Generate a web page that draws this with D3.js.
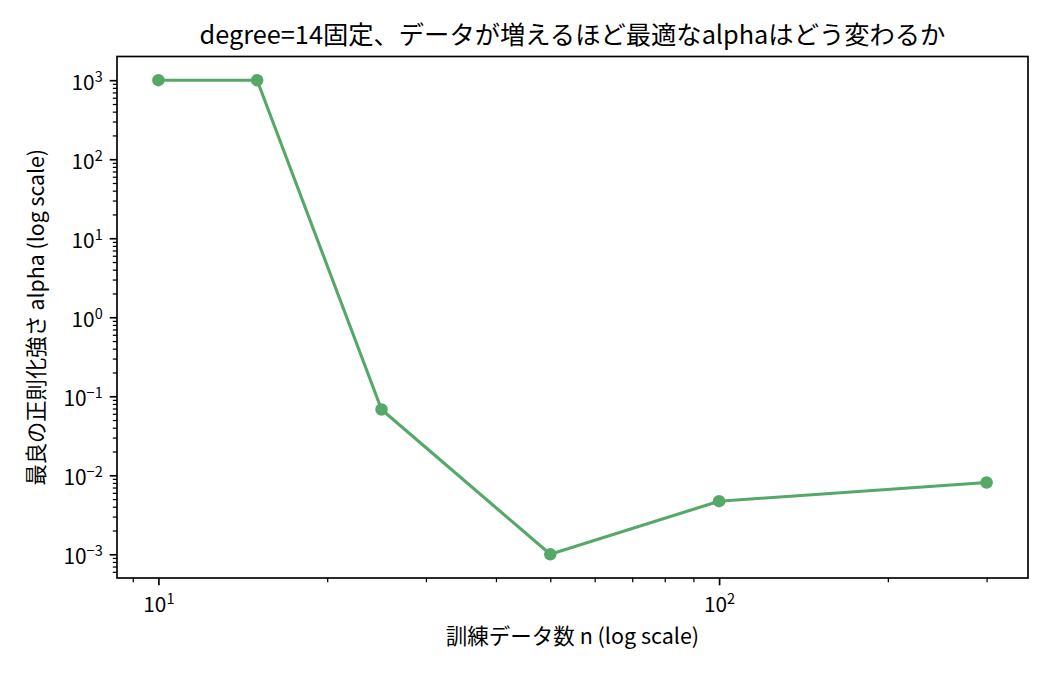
<!DOCTYPE html>
<html>
<head>
<meta charset="utf-8">
<script src="https://cdn.jsdelivr.net/npm/d3@7"></script>
<style>
  body { margin: 0; background: #fff; }
  text { font-family: "Noto Sans CJK JP", "Noto Sans", sans-serif; fill: #000; }
</style>
</head>
<body>
<div id="chart"></div>
<script>
const WIDTH = 1050;
const HEIGHT = 675;

// datos
const nTrain = [10, 15, 25, 50, 100, 300];
const bestAlpha = [1000, 1000, 0.068, 0.001, 0.0047, 0.0081];
const xMajorTicks = [10, 100];
const yMajorTicks = [1e-3, 1e-2, 1e-1, 1e0, 1e1, 1e2, 1e3];

const TITLE = "degree=14固定、データが増えるほど最適なalphaはどう変わるか";
const X_LABEL = "訓練データ数 n (log scale)";
const Y_LABEL = "最良の正則化強さ alpha (log scale)";

const margin = { top: 56.5, right: 22, bottom: 97, left: 117 };
const width = WIDTH - margin.left - margin.right;
const height = HEIGHT - margin.top - margin.bottom;
const COLOR = "#55a868";

const svg = d3.select("#chart").append("svg")
    .attr("width", WIDTH)
    .attr("height", HEIGHT);

const g = svg.append("g")
    .attr("transform", `translate(${margin.left},${margin.top})`);

// escalas con 5% de margen en log
function padLog(lo, hi) {
    const a = Math.log10(lo), b = Math.log10(hi);
    const p = (b - a) * 0.05;
    return [Math.pow(10, a - p), Math.pow(10, b + p)];
}

const x = d3.scaleLog()
    .domain(padLog(d3.min(nTrain), d3.max(nTrain)))
    .range([0, width]);

const y = d3.scaleLog()
    .domain(padLog(d3.min(bestAlpha), d3.max(bestAlpha)))
    .range([height, 0]);

function minorTicks(scale) {
    const [lo, hi] = scale.domain();
    const out = [];
    for (let e = Math.floor(Math.log10(lo)); e <= Math.ceil(Math.log10(hi)); e++) {
        for (let m = 2; m <= 9; m++) {
            const v = m * Math.pow(10, e);
            if (v >= lo && v <= hi) out.push(v);
        }
    }
    return out;
}

function supLabel(sel) {
    sel.each(function(d) {
        const t = d3.select(this);
        const e = Math.round(Math.log10(d));
        t.text(null);
        t.append("tspan").text("10");
        t.append("tspan")
            .attr("dy", -8.5)
            .style("font-size", "14.5px")
            .text(e < 0 ? "\u2212" + (-e) : String(e));
    });
}

// Eje X
const xAxis = g.append("g")
    .attr("transform", `translate(0,${height})`);
xAxis.call(d3.axisBottom(x).tickValues(minorTicks(x)).tickSize(4.2).tickFormat(""))
    .call(a => a.selectAll("line").attr("stroke-width", 1.25).attr("stroke", "#000"));
const xMaj = g.append("g")
    .attr("transform", `translate(0,${height})`)
    .call(d3.axisBottom(x).tickValues(xMajorTicks).tickSize(7.3).tickPadding(6));
xMaj.selectAll("line").attr("stroke-width", 1.67).attr("stroke", "#000");
xMaj.selectAll("text")
    .style("font-size", "20.8px")
    .attr("dy", null)
    .attr("y", 34)
    .call(supLabel);
xAxis.select(".domain").remove();
xMaj.select(".domain").remove();

// Eje Y
const yAxis = g.append("g");
yAxis.call(d3.axisLeft(y).tickValues(minorTicks(y)).tickSize(4.2).tickFormat(""))
    .call(a => a.selectAll("line").attr("stroke-width", 1.25).attr("stroke", "#000"));
const yMaj = g.append("g")
    .call(d3.axisLeft(y).tickValues(yMajorTicks).tickSize(7.3).tickPadding(7));
yMaj.selectAll("line").attr("stroke-width", 1.67).attr("stroke", "#000");
yMaj.selectAll("text")
    .style("font-size", "20.8px")
    .attr("dy", null)
    .attr("y", 9.5)
    .call(supLabel);
yAxis.select(".domain").remove();
yMaj.select(".domain").remove();

// Línea y puntos
const line = d3.line()
    .x((d, i) => x(nTrain[i]))
    .y(d => y(d));

g.append("path")
    .datum(bestAlpha)
    .attr("fill", "none")
    .attr("stroke", COLOR)
    .attr("stroke-width", 3.1)
    .attr("stroke-linejoin", "round")
    .attr("d", line);

g.selectAll(".pt")
    .data(bestAlpha)
    .enter().append("circle")
    .attr("class", "pt")
    .attr("cx", (d, i) => x(nTrain[i]))
    .attr("cy", d => y(d))
    .attr("r", 6.25)
    .attr("fill", COLOR);

// Marco
g.append("rect")
    .attr("width", width)
    .attr("height", height)
    .attr("fill", "none")
    .attr("stroke", "#000")
    .attr("stroke-width", 1.67);

// Títulos
svg.append("text")
    .attr("x", margin.left + width / 2)
    .attr("y", 44)
    .attr("text-anchor", "middle")
    .style("font-size", "25.3px")
    .text(TITLE);

svg.append("text")
    .attr("x", margin.left + width / 2)
    .attr("y", 644)
    .attr("text-anchor", "middle")
    .style("font-size", "21.5px")
    .text(X_LABEL);

svg.append("text")
    .attr("transform", `translate(44,${margin.top + height / 2}) rotate(-90)`)
    .attr("text-anchor", "middle")
    .style("font-size", "21.3px")
    .text(Y_LABEL);
</script>
</body>
</html>
